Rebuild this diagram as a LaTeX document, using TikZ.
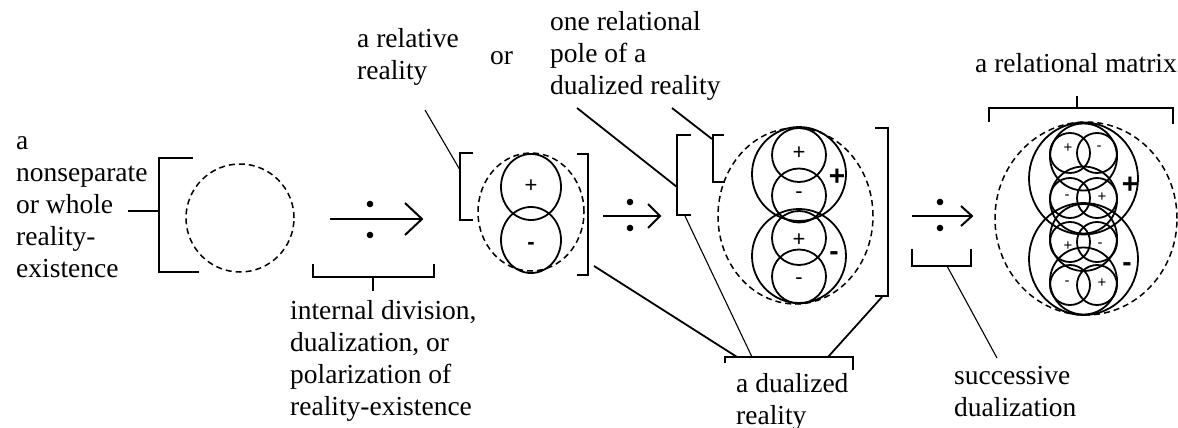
\documentclass[tikz,border=0pt]{standalone}
\usepackage{fontspec}
\setmainfont{Liberation Serif}
\newfontfamily\symfont{Liberation Sans}
\begin{document}
\begin{tikzpicture}[x=1pt,y=-1pt,
  lbl/.style={font=\fontsize{27.5}{32}\selectfont, inner sep=0pt, align=left, anchor=base west},
  brk/.style={line width=2.5pt, line cap=butt, line join=miter},
  ring/.style={line width=1.8pt},
  dsh/.style={line width=1.5pt, dash pattern=on 6pt off 4pt},
  lead/.style={line width=1.8pt},
  thinlead/.style={line width=1.1pt},
  arr/.style={line width=2pt},
  sym/.style={font=\symfont\fontsize{22}{22}\selectfont, inner sep=0pt},
  tinysym/.style={font=\symfont\fontsize{15}{15}\selectfont, inner sep=0pt},
  bigsym/.style={font=\symfont\bfseries\fontsize{28}{28}\selectfont, inner sep=0pt}
]
\useasboundingbox (0,0) rectangle (1178,428);

% ---------- labels (anchor = baseline of last line) ----------
\node[lbl] (whole) at (16,277) {a\\nonseparate\\or whole\\reality-\\existence};
\node[lbl] (division) at (290,415) {internal division,\\dualization, or\\polarization of\\reality-existence};
\node[lbl] (relative) at (357,79) {a relative\\reality};
\node[lbl] (or) at (490,65) {or};
\node[lbl] (pole) at (550,94) {one relational\\pole of a\\dualized reality};
\node[lbl] (dualized) at (736,424) {a dualized\\reality};
\node[lbl] (matrix) at (975,73) {a relational matrix};
\node[lbl] (successive) at (954,416) {successive\\dualization};

% ---------- figure 1 ----------
\draw[dsh] (240,218) circle[radius=54pt];
\draw[brk] (193,158) -- (159,158) -- (159,272) -- (199,272);
\coordinate (w1) at (128,211);
\coordinate (w2) at (159,211);
\draw[brk] (w1) -- (w2);

% ---------- arrow 1 ----------
\coordinate (a1s) at (330,219);
\coordinate (a1e) at (422,219);
\draw[arr] (a1s) -- (a1e);
\draw[arr] (a1e) ++(-17,-16) -- (a1e) -- ++(-17,16);
\fill (370,204) circle[radius=3.3pt];
\fill (370,235) circle[radius=3.3pt];
\draw[brk] (313,264) -- (313,277) -- (434,277) -- (434,264);
\draw[brk] (373,277) -- (373,291);

% ---------- figure 2 ----------
\draw[dsh] (531,212) ellipse[x radius=53pt, y radius=59pt];
\draw[ring] (531,187) ellipse[x radius=30pt, y radius=33pt];
\draw[ring] (531,240) ellipse[x radius=30pt, y radius=33pt];
\node[sym] (p2) at (531,186) {+};
\node[sym] (m2) at (531,246) {\bfseries -};
\draw[brk] (473,153) -- (460,153) -- (460,220) -- (473,220);
\draw[brk] (577,154) -- (588,154) -- (588,275) -- (577,275);
\coordinate (r1) at (425,110);
\coordinate (r2) at (460,170);
\draw[thinlead] (r1) -- (r2);

% ---------- arrow 2 ----------
\coordinate (a2s) at (603,216);
\coordinate (a2e) at (660,216);
\draw[arr] (a2s) -- (a2e);
\draw[arr] (a2e) ++(-12,-12) -- (a2e) -- ++(-12,12);
\fill (630,202) circle[radius=3.3pt];
\fill (630,228) circle[radius=3.3pt];

% ---------- figure 3 ----------
\draw[dsh] (795.5,216) ellipse[x radius=77.5pt, y radius=88pt];
\draw[ring] (799,174) circle[radius=47pt];
\draw[ring] (799,256) circle[radius=47pt];
\draw[ring] (799,155) circle[radius=27pt];
\draw[ring] (799,195.5) circle[radius=27pt];
\draw[ring] (799,238) circle[radius=27pt];
\draw[ring] (799,276.5) circle[radius=27pt];
\node[sym] (p31) at (799,153) {+};
\node[sym] (m31) at (799,195) {-};
\node[sym] (p32) at (799,240) {+};
\node[sym] (m32) at (799,281) {-};
\node[bigsym] (P3) at (837,177) {+};
\node[bigsym] (M3) at (834,256) {-};
\draw[brk] (691,135) -- (677,135) -- (677,215) -- (691,215);
\draw[brk] (724,135) -- (713,135) -- (713,182) -- (725,182);
\draw[brk] (875,128) -- (888,128) -- (888,296) -- (875,296);

% leaders from "one relational pole"
\coordinate (o1) at (577,108);
\coordinate (o2) at (677,187);
\coordinate (o3) at (672,108);
\coordinate (o4) at (712,139);
\draw[lead] (o1) -- (o2);
\draw[lead] (o3) -- (o4);

% bottom bracket "a dualized reality"
\draw[brk] (725,363) -- (725,357) -- (853,357) -- (853,370);
\coordinate (b1) at (737,357);
\coordinate (b2) at (752,357);
\coordinate (b3) at (828,357);
\coordinate (f2r) at (594,266);
\coordinate (f3l) at (685,216);
\coordinate (f3r) at (882,297);
\draw[lead] (f2r) -- (b1);
\draw[thinlead] (f3l) -- (b2);
\draw[lead] (f3r) -- (b3);

% ---------- arrow 3 ----------
\coordinate (a3s) at (912,216);
\coordinate (a3e) at (972,216);
\draw[arr] (a3s) -- (a3e);
\draw[arr] (a3e) ++(-11,-10) -- (a3e) -- ++(-11,10);
\fill (940,202) circle[radius=3.3pt];
\fill (940,228) circle[radius=3.3pt];
\draw[brk] (912,249) -- (912,266) -- (971,266) -- (971,249);
\coordinate (s1) at (947,266);
\coordinate (s2) at (997,358);
\draw[thinlead] (s1) -- (s2);

% ---------- figure 4 ----------
\draw[dsh] (1086,218.5) ellipse[x radius=91pt, y radius=96.5pt];
\draw[ring] (1083.5,178.5) ellipse[x radius=54.5pt, y radius=56pt];
\draw[ring] (1083.5,259) ellipse[x radius=54.5pt, y radius=56pt];
\foreach \y in {157,200,237.5,281} {
  \draw[ring] (1083.5,\y) circle[radius=33.5pt];
}
\foreach \y in {153,198,242,285} {
  \draw[ring] (1070,\y) circle[radius=20pt];
  \draw[ring] (1097,\y) circle[radius=20pt];
}
\node[tinysym] (p41) at (1068,148) {+};
\node[tinysym] (m41) at (1099,148) {-};
\node[tinysym] (m42) at (1067,197) {-};
\node[tinysym] (p42) at (1102,197) {+};
\node[tinysym] (p43) at (1068,246) {+};
\node[tinysym] (m43) at (1100,245) {-};
\node[tinysym] (m44) at (1067,283) {-};
\node[tinysym] (p44) at (1102,283) {+};
\node[bigsym] (P4) at (1130,185) {+};
\node[bigsym] (M4) at (1127,267) {-};
\draw[brk] (989,122) -- (989,108) -- (1173,108) -- (1173,124);
\coordinate (t1) at (1077,108);
\coordinate (t2) at (1077,96);
\draw[brk] (t1) -- (t2);
\end{tikzpicture}
\end{document}
